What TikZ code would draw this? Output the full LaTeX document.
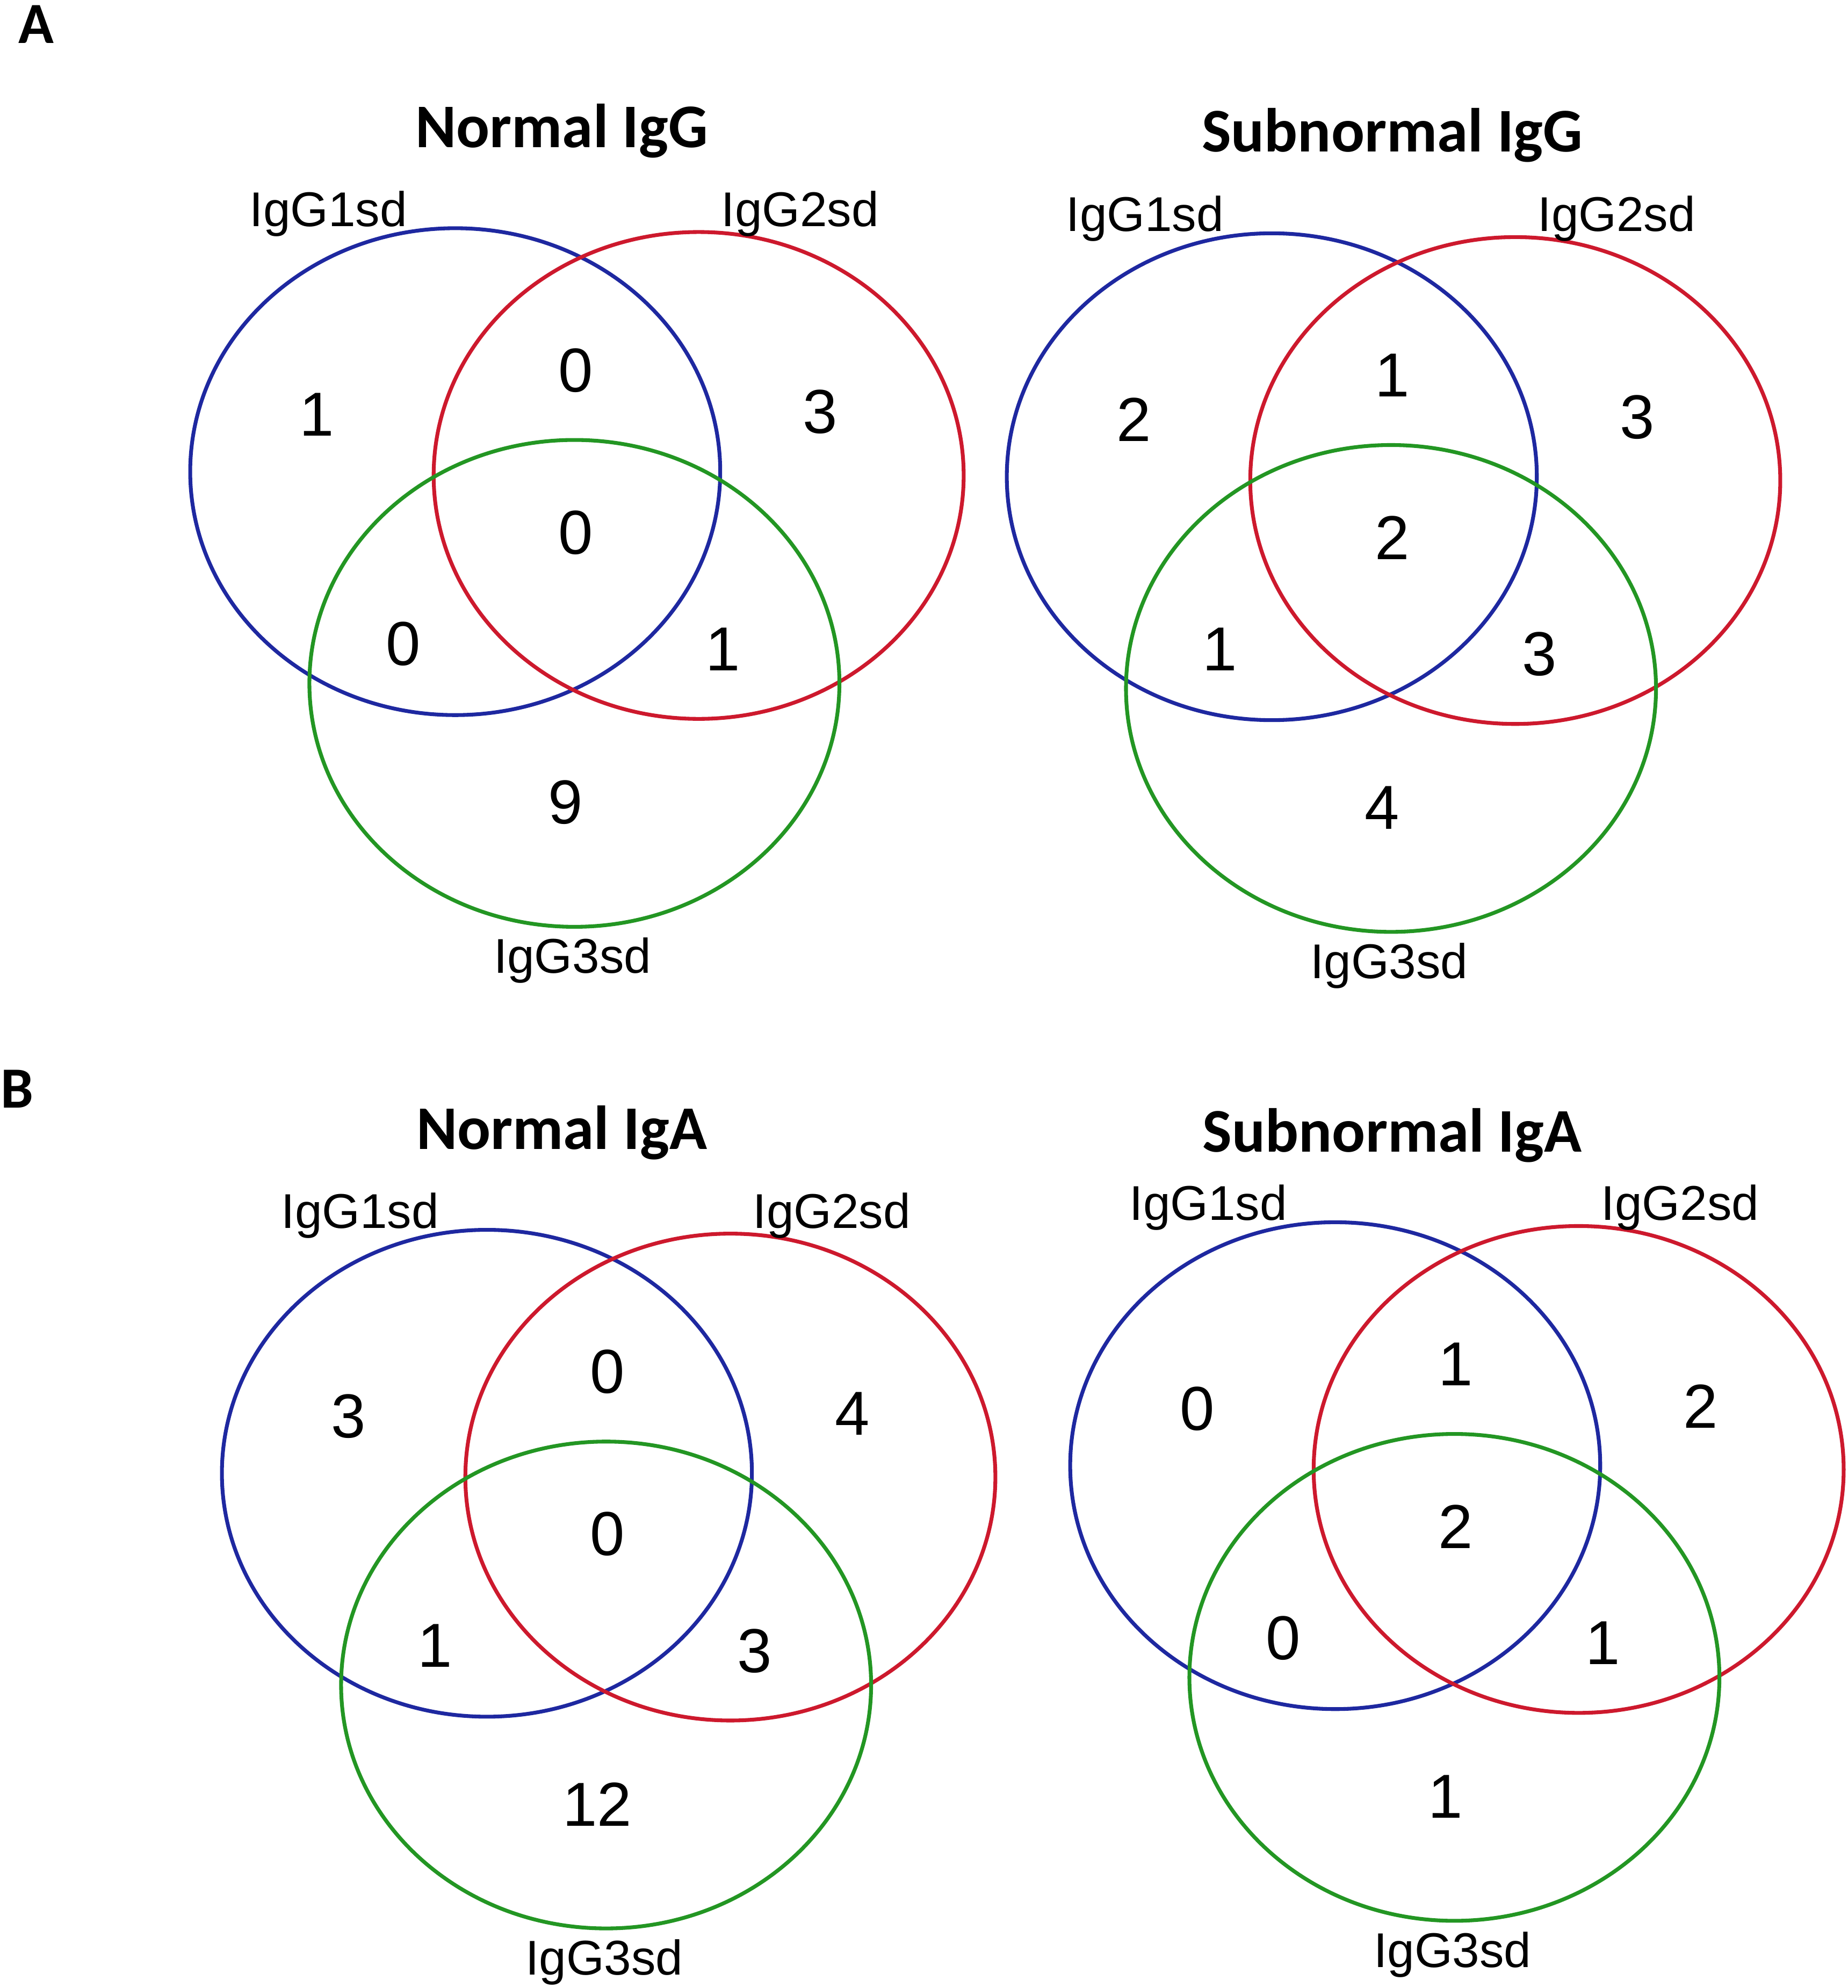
\documentclass[tikz,border=0pt]{standalone}
\usepackage{fontspec}
\newfontfamily\labfont{Liberation Sans}
\newfontfamily\ttlfont{Carlito}
\definecolor{vblue}{RGB}{30,40,160}
\definecolor{vred}{RGB}{205,25,45}
\definecolor{vgreen}{RGB}{35,150,35}
\tikzset{
  vset/.style={line width=3pt},
  setlabel/.style={font=\labfont\fontsize{38.5}{46}\selectfont, inner sep=0pt, anchor=base},
  count/.style={font=\labfont\fontsize{49}{58}\selectfont, inner sep=0pt, anchor=center},
  ptitle/.style={font=\ttlfont\bfseries\fontsize{49}{58}\selectfont, inner sep=0pt, anchor=base},
  pletter/.style={font=\ttlfont\bfseries\fontsize{46}{56}\selectfont, inner sep=0pt, anchor=center}
}
% #1 prefix, #2..#8 counts: G1 only, G1G2, G2 only, all, G1G3, G2G3, G3 only
\newcommand\vennpanel[8]{%
  \draw[vset, vblue] (0,0) ellipse [x radius=209, y radius=192];
  \draw[vset, vred] (192,3) ellipse [x radius=209, y radius=192];
  \draw[vset, vgreen] (94,167) ellipse [x radius=209, y radius=192];
  \node[setlabel] (#1l1) at (-100,-193.5) {IgG1sd};
  \node[setlabel] (#1l2) at (272,-193.5) {IgG2sd};
  \node[setlabel] (#1l3) at (92.5,395.5) {IgG3sd};
  \node[count] (#1a) at (-109,-45) {#2};
  \node[count] (#1ab) at (95,-80) {#3};
  \node[count] (#1b) at (288,-47) {#4};
  \node[count] (#1abc) at (95,48) {#5};
  \node[count] (#1ac) at (-41,136) {#6};
  \node[count] (#1bc) at (211,140) {#7};
  \node[count] (#1c) at (87,261) {#8};
}
\begin{document}
\begin{tikzpicture}[x=1pt, y=-1pt]
  \fill[white] (0,0) rectangle (1457,1568);
  \useasboundingbox (0,0) rectangle (1457,1568);
  \node[pletter] (letA) at (28.5,19) {A};
  \node[pletter] (letB) at (13.5,859) {B};
  \node[ptitle] (t1) at (443,116.5) {Normal IgG};
  \node[ptitle] (t2) at (1098,119.5) {Subnormal IgG};
  \node[ptitle] (t3) at (443,906.5) {Normal IgA};
  \node[ptitle] (t4) at (1098,908.5) {Subnormal IgA};
  \begin{scope}[shift={(359,372)}]
    \vennpanel{p1}{1}{0}{3}{0}{0}{1}{9}
  \end{scope}
  \begin{scope}[shift={(1003,376)}]
    \vennpanel{p2}{2}{1}{3}{2}{1}{3}{4}
  \end{scope}
  \begin{scope}[shift={(384,1162)}]
    \vennpanel{p3}{3}{0}{4}{0}{1}{3}{12}
  \end{scope}
  \begin{scope}[shift={(1053,1156)}]
    \vennpanel{p4}{0}{1}{2}{2}{0}{1}{1}
  \end{scope}
\end{tikzpicture}
\end{document}
